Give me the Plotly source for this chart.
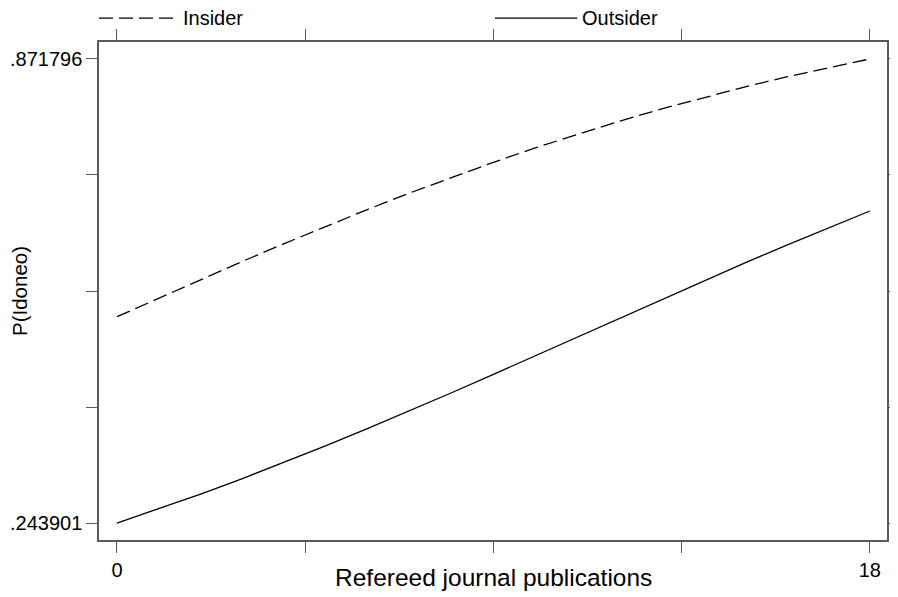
import plotly.graph_objects as go

# Data
x_pubs = list(range(0, 19))
insider = [0.5231, 0.5483, 0.5733, 0.5979, 0.6220, 0.6455, 0.6684, 0.6905, 0.7117,
           0.7320, 0.7515, 0.7699, 0.7874, 0.8039, 0.8193, 0.8338, 0.8475, 0.8601, 0.871796]
outsider = [0.243901, 0.2630, 0.2831, 0.3041, 0.3259, 0.3485, 0.3719, 0.3958, 0.4202,
            0.4451, 0.4702, 0.4955, 0.5208, 0.5459, 0.5709, 0.5955, 0.6196, 0.6432, 0.6661]

y_min, y_max = 0.243901, 0.871796
y_ticks = [y_min + i * (y_max - y_min) / 4 for i in range(5)]
y_ticktext = [".243901", "", "", "", ".871796"]
x_ticks = [0, 4.5, 9, 13.5, 18]
x_ticktext = ["0", "", "", "", "18"]
series_names = ["Insider", "Outsider"]

FONT = "Liberation Sans, Arial, sans-serif"
FRAME = "#5a5a5a"

fig = go.Figure()
fig.add_trace(go.Scatter(x=x_pubs, y=insider, mode="lines", name=series_names[0],
                         line=dict(color="black", width=1.3, dash="14px,6px"),
                         showlegend=False))
fig.add_trace(go.Scatter(x=x_pubs, y=outsider, mode="lines", name=series_names[1],
                         line=dict(color="black", width=1.3),
                         showlegend=False))

pad_y = (y_max - y_min) * 0.0366
axis_common = dict(showgrid=False, zeroline=False, showline=True, linecolor=FRAME,
                   linewidth=1.5, mirror="ticks", ticks="outside", ticklen=11,
                   tickcolor=FRAME, tickwidth=1.3, automargin=False,
                   tickfont=dict(family=FONT, size=20, color="black"))

# page body has an 8px default margin, so the figure is sized to compensate
fig.update_layout(
    width=890, height=589,
    margin=dict(l=91, r=11, t=34, b=57),
    paper_bgcolor="white", plot_bgcolor="white",
    font=dict(family=FONT, color="black"),
    xaxis=dict(range=[-0.43, 18.41], tickvals=x_ticks, ticktext=x_ticktext,
               **axis_common),
    yaxis=dict(range=[y_min - pad_y, y_max + pad_y], tickvals=y_ticks, ticktext=y_ticktext,
               **axis_common),
)

# Axis titles
fig.add_annotation(xref="paper", yref="paper", x=0.5, y=-0.076, text="Refereed journal publications",
                   showarrow=False, xanchor="center", yanchor="middle",
                   font=dict(family=FONT, size=24.5, color="black"))
fig.add_annotation(xref="paper", yref="paper", x=-0.1015, y=0.5, text="P(Idoneo)", textangle=-90,
                   showarrow=False, xanchor="center", yanchor="middle",
                   font=dict(family=FONT, size=20.5, color="black"))

# Legend drawn at top (Stata-style long key lines)
fig.add_shape(type="line", xref="paper", yref="paper", x0=0.0, x1=0.1, y0=1.048, y1=1.048,
              line=dict(color="black", width=1.3, dash="14px,6px"))
fig.add_shape(type="line", xref="paper", yref="paper", x0=0.5025, x1=0.607, y0=1.048, y1=1.048,
              line=dict(color="black", width=1.3))
fig.add_annotation(xref="paper", yref="paper", x=0.104, y=1.048, text=series_names[0],
                   showarrow=False, xanchor="left", yanchor="middle",
                   font=dict(family=FONT, size=20, color="black"))
fig.add_annotation(xref="paper", yref="paper", x=0.611, y=1.048, text=series_names[1],
                   showarrow=False, xanchor="left", yanchor="middle",
                   font=dict(family=FONT, size=20, color="black"))

fig.write_html("out.html")
